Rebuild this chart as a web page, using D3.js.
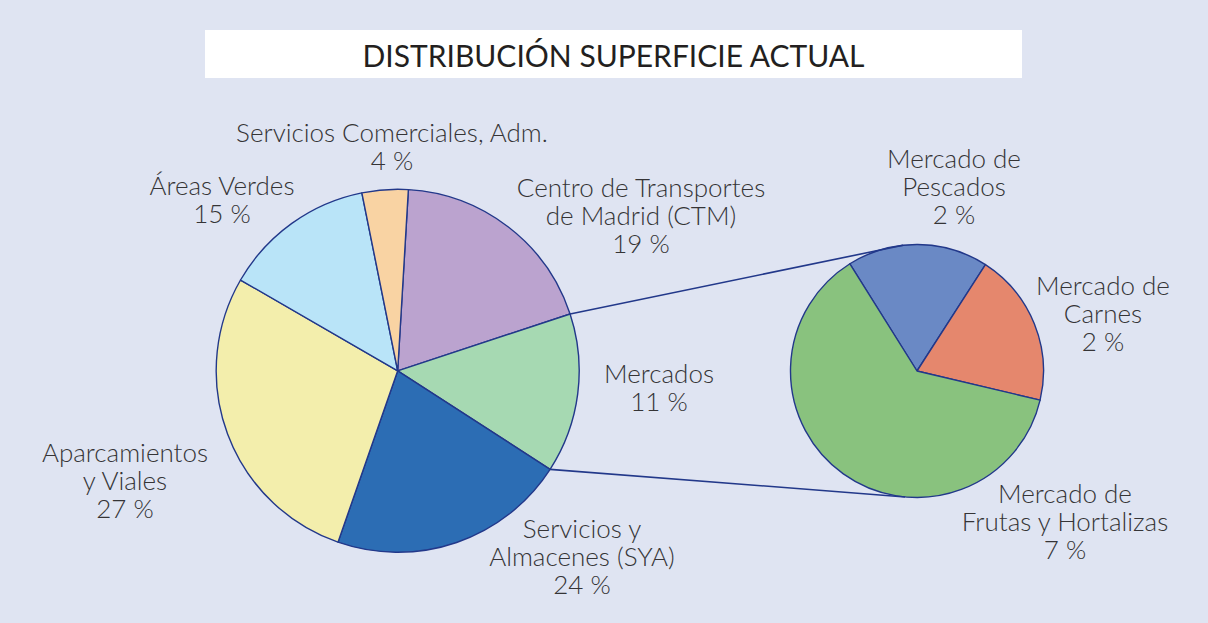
<!DOCTYPE html>
<html>
<head>
<meta charset="utf-8">
<script src="https://cdn.jsdelivr.net/npm/d3@7/dist/d3.min.js"></script>
<style>
  html, body { margin: 0; padding: 0; background: #dfe4f2; }
  svg { display: block; }
  text { font-family: "Lato", "Open Sans", sans-serif; }
</style>
</head>
<body>
<svg id="chart" width="1208" height="623"></svg>
<script>
// ---------- DATA ----------
const chartTitle = "DISTRIBUCIÓN SUPERFICIE ACTUAL";

const mainCategories = ["Centro de Transportes de Madrid (CTM)", "Mercados", "Servicios y Almacenes (SYA)", "Aparcamientos y Viales", "Áreas Verdes", "Servicios Comerciales, Adm."];
const mainPercents = [19, 11, 24, 27, 15, 4];
// slice sizes as drawn in the picture (share of the full circle, %)
const mainShares = [19.0, 14.2, 21.2, 28.0, 13.5, 4.1];
const mainLabelLines = [
  ["Centro de Transportes", "de Madrid (CTM)"],
  ["Mercados"],
  ["Servicios y", "Almacenes (SYA)"],
  ["Aparcamientos", "y Viales"],
  ["Áreas Verdes"],
  ["Servicios Comerciales, Adm."]
];
const mainColors = ["#bba3cf", "#a6d9b2", "#2c6db4", "#f3eeac", "#b9e4f8", "#f9d3a3"];

const subCategories = ["Mercado de Pescados", "Mercado de Carnes", "Mercado de Frutas y Hortalizas"];
const subPercents = [2, 2, 7];
const subShares = [18.0, 19.6, 62.4];
const subLabelLines = [
  ["Mercado de", "Pescados"],
  ["Mercado de", "Carnes"],
  ["Mercado de", "Frutas y Hortalizas"]
];
const subColors = ["#6a89c5", "#e5876d", "#89c27e"];

// ---------- LAYOUT ----------
const W = 1208, H = 623;
const deg = Math.PI / 180;
const mainPie = { cx: 397.7, cy: 370.8, r: 181.5, start: 3.37 };
const subPie = { cx: 917, cy: 371, r: 126.5, start: -32.05 };
const strokeColor = "#22388a";
const lineH = 28;
// label anchor (center x, first baseline y)
const mainLabelPos = [[641, 197], [659, 383], [582, 538], [125, 462], [222, 195], [392, 142]];
const subLabelPos = [[954, 168], [1103, 295], [1065, 503]];

const svg = d3.select("#chart");
svg.append("rect").attr("width", W).attr("height", H).attr("fill", "#dfe4f2");

// title box
svg.append("rect").attr("x", 205).attr("y", 30).attr("width", 817).attr("height", 48).attr("fill", "#ffffff");
const title = svg.append("text")
  .attr("x", 613.5).attr("y", 67)
  .attr("text-anchor", "middle")
  .attr("font-size", 30)
  .attr("font-weight", 400)
  .attr("fill", "#231f20")
  .text(chartTitle);
const tw = title.node().getComputedTextLength();
if (tw > 505) title.attr("textLength", 505).attr("lengthAdjust", "spacingAndGlyphs");

function drawPie(cfg, shares, colors) {
  const pie = d3.pie().sort(null).value(d => d)
    .startAngle(cfg.start * deg).endAngle(cfg.start * deg + 2 * Math.PI);
  const arcs = pie(shares);
  const arc = d3.arc().innerRadius(0).outerRadius(cfg.r);
  const g = svg.append("g").attr("transform", `translate(${cfg.cx},${cfg.cy})`);
  g.selectAll("path").data(arcs).join("path")
    .attr("d", arc)
    .attr("fill", (d, i) => colors[i])
    .attr("stroke", strokeColor)
    .attr("stroke-width", 1.4)
    .attr("stroke-linejoin", "round");
  return arcs;
}

function pointOn(cfg, a) {
  return [cfg.cx + cfg.r * Math.sin(a), cfg.cy - cfg.r * Math.cos(a)];
}

const mainArcs = drawPie(mainPie, mainShares, mainColors);
const subArcs = drawPie(subPie, subShares, subColors);

const mIdx = mainCategories.indexOf("Mercados");
const pA = pointOn(mainPie, mainArcs[mIdx].startAngle);
const pB = pointOn(mainPie, mainArcs[mIdx].endAngle);
const qA = pointOn(subPie, -6.3 * deg);
const qB = pointOn(subPie, 185.4 * deg);
svg.append("line").attr("x1", pA[0]).attr("y1", pA[1]).attr("x2", qA[0]).attr("y2", qA[1])
  .attr("stroke", strokeColor).attr("stroke-width", 1.6);
svg.append("line").attr("x1", pB[0]).attr("y1", pB[1]).attr("x2", qB[0]).attr("y2", qB[1])
  .attr("stroke", strokeColor).attr("stroke-width", 1.6);

function drawLabel(pos, lines, pct) {
  const t = svg.append("text")
    .attr("text-anchor", "middle")
    .attr("font-size", 26)
    .attr("font-weight", 300)
    .attr("fill", "#353436");
  const all = lines.concat([pct + " %"]);
  all.forEach((s, i) => {
    t.append("tspan").attr("x", pos[0]).attr("y", pos[1] + i * lineH).text(s);
  });
}
mainLabelLines.forEach((l, i) => drawLabel(mainLabelPos[i], l, mainPercents[i]));
subLabelLines.forEach((l, i) => drawLabel(subLabelPos[i], l, subPercents[i]));
</script>
</body>
</html>
